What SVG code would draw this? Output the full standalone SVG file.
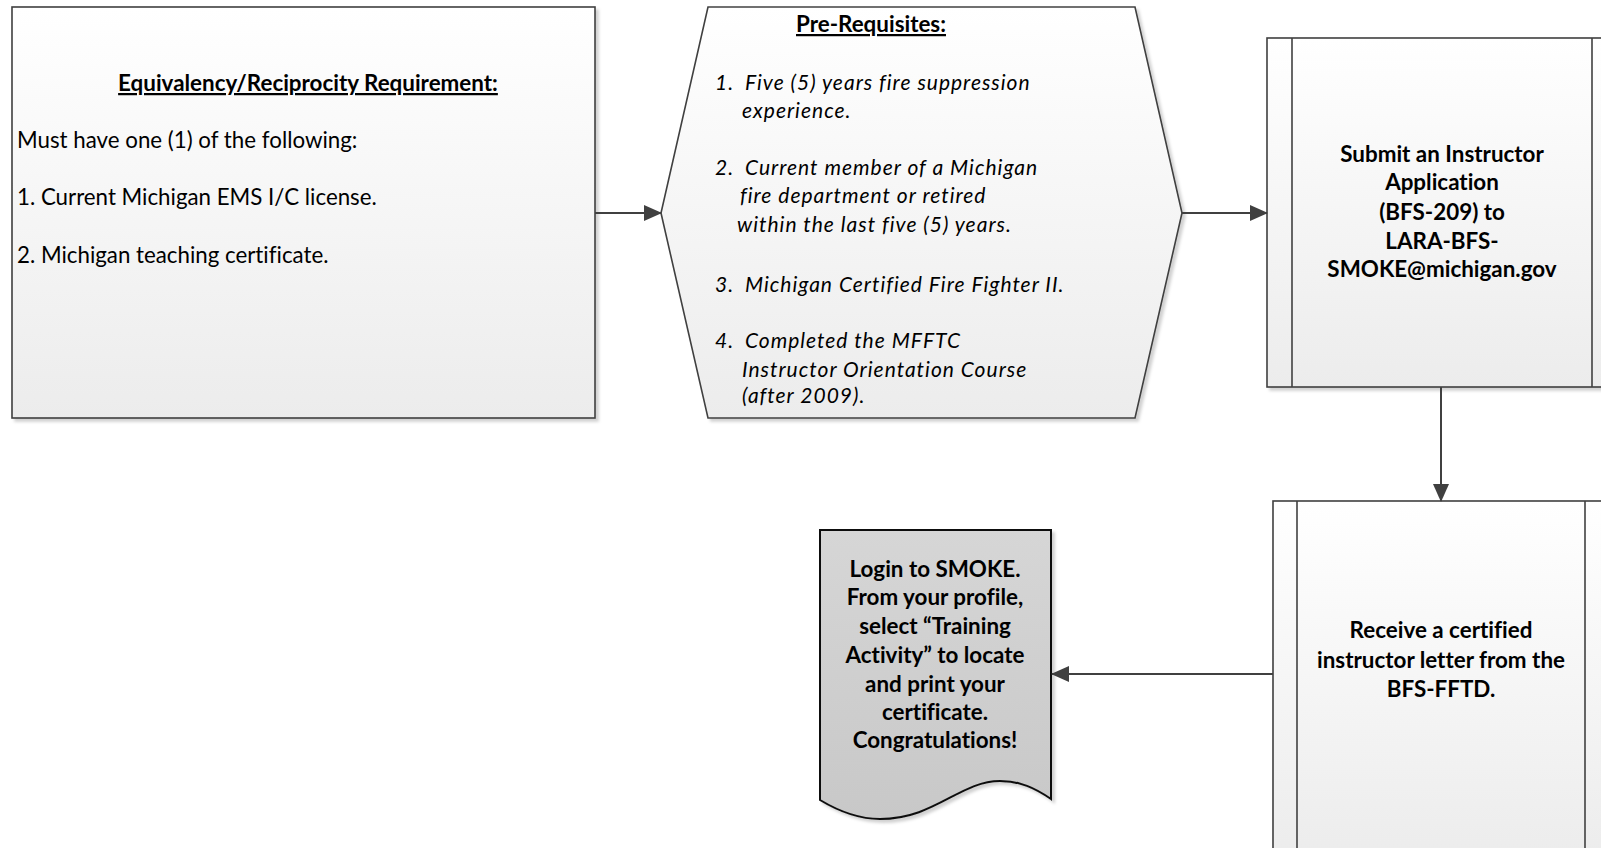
<svg xmlns="http://www.w3.org/2000/svg" width="1601" height="848" viewBox="0 0 1601 848">
<defs>
<linearGradient id="gLight" x1="0" y1="0" x2="0" y2="1">
<stop offset="0" stop-color="#ffffff"/>
<stop offset="1" stop-color="#ececec"/>
</linearGradient>
<linearGradient id="gDoc" x1="0" y1="0" x2="0" y2="1">
<stop offset="0" stop-color="#d6d6d6"/>
<stop offset="1" stop-color="#c8c8c8"/>
</linearGradient>
<filter id="sh" x="-5%" y="-5%" width="115%" height="115%">
<feDropShadow dx="3" dy="3" stdDeviation="1.5" flood-color="#000" flood-opacity="0.18"/>
</filter>
<marker id="arr" markerWidth="18" markerHeight="16" refX="17" refY="8" orient="auto" markerUnits="userSpaceOnUse">
<path d="M0,0 L18,8 L0,16 z" fill="#404040"/>
</marker>
</defs>
<style>
.shape{stroke:#404040;stroke-width:1.6;}
.doc{stroke:#111111;stroke-width:2;}
.t{font-family:Lato,"Open Sans","Liberation Sans",sans-serif;fill:#000;font-variant-ligatures:none;}
.reg{font-size:22.3px;}
.it{font-size:21px;font-style:italic;letter-spacing:1px;}
.b{font-size:22.4px;font-weight:bold;}
.ul{text-decoration:underline;}
.conn{stroke:#404040;stroke-width:2;fill:none;}
</style>
<rect width="1601" height="848" fill="#ffffff"/>

<g id="equivalency">
<rect class="shape" x="12" y="7" width="583" height="411" fill="url(#gLight)" filter="url(#sh)"/>
<text class="t b ul" x="308" y="91" text-anchor="middle">Equivalency/Reciprocity Requirement:</text>
<text class="t reg" x="17" y="148">Must have one (1) of the following:</text>
<text class="t reg" x="17" y="205">1. Current Michigan EMS I/C license.</text>
<text class="t reg" x="17" y="263">2. Michigan teaching certificate.</text>
</g>

<g id="prerequisites">
<polygon class="shape" points="708,7 1135,7 1182,213 1135,418 708,418 661,213" fill="url(#gLight)" filter="url(#sh)"/>
<text class="t b ul" x="871" y="32" text-anchor="middle">Pre-Requisites:</text>
<text class="t it" y="90"><tspan x="715">1.</tspan><tspan x="745">Five (5) years fire suppression</tspan></text>
<text class="t it" x="742" y="118">experience.</text>
<text class="t it" y="175"><tspan x="715">2.</tspan><tspan x="745">Current member of a Michigan</tspan></text>
<text class="t it" x="740" y="203">fire department or retired</text>
<text class="t it" x="737" y="232">within the last five (5) years.</text>
<text class="t it" y="292"><tspan x="715">3.</tspan><tspan x="745">Michigan Certified Fire Fighter II.</tspan></text>
<text class="t it" y="348"><tspan x="715">4.</tspan><tspan x="745">Completed the MFFTC</tspan></text>
<text class="t it" x="742" y="377">Instructor Orientation Course</text>
<text class="t it" x="742" y="403">(after 2009).</text>
</g>

<g id="submit">
<rect class="shape" x="1267" y="38" width="350" height="349" fill="url(#gLight)" filter="url(#sh)"/>
<line class="shape" x1="1292" y1="38" x2="1292" y2="387"/>
<line class="shape" x1="1592" y1="38" x2="1592" y2="387"/>
<text class="t b" x="1442" y="162" text-anchor="middle">Submit an Instructor</text>
<text class="t b" x="1442" y="190" text-anchor="middle">Application</text>
<text class="t b" x="1442" y="220" text-anchor="middle">(BFS-209) to</text>
<text class="t b" x="1442" y="249" text-anchor="middle">LARA-BFS-</text>
<text class="t b" x="1442" y="277" text-anchor="middle">SMOKE@michigan.gov</text>
</g>

<g id="receive">
<rect class="shape" x="1273" y="501" width="336" height="360" fill="url(#gLight)" filter="url(#sh)"/>
<line class="shape" x1="1297" y1="501" x2="1297" y2="861"/>
<line class="shape" x1="1585" y1="501" x2="1585" y2="861"/>
<text class="t b" x="1441" y="638" text-anchor="middle">Receive a certified</text>
<text class="t b" x="1441" y="668" text-anchor="middle">instructor letter from the</text>
<text class="t b" x="1441" y="697" text-anchor="middle">BFS-FFTD.</text>
</g>

<g id="login">
<path class="doc" d="M820,530 L1051,530 L1051,799 C1035,788 1020,781 1000,781 C960,781 935,819 880,819 C860,819 840,812 820,800 Z" fill="url(#gDoc)" filter="url(#sh)"/>
<text class="t b" x="935" y="577" text-anchor="middle">Login to SMOKE.</text>
<text class="t b" x="935" y="605" text-anchor="middle">From your profile,</text>
<text class="t b" x="935" y="634" text-anchor="middle">select “Training</text>
<text class="t b" x="935" y="663" text-anchor="middle">Activity” to locate</text>
<text class="t b" x="935" y="692" text-anchor="middle">and print your</text>
<text class="t b" x="935" y="720" text-anchor="middle">certificate.</text>
<text class="t b" x="935" y="748" text-anchor="middle">Congratulations!</text>
</g>

<g id="connectors">
<line class="conn" x1="595" y1="213" x2="661" y2="213" marker-end="url(#arr)"/>
<line class="conn" x1="1182" y1="213" x2="1267" y2="213" marker-end="url(#arr)"/>
<line class="conn" x1="1441" y1="387" x2="1441" y2="501" marker-end="url(#arr)"/>
<line class="conn" x1="1273" y1="674" x2="1052" y2="674" marker-end="url(#arr)"/>
</g>
</svg>
